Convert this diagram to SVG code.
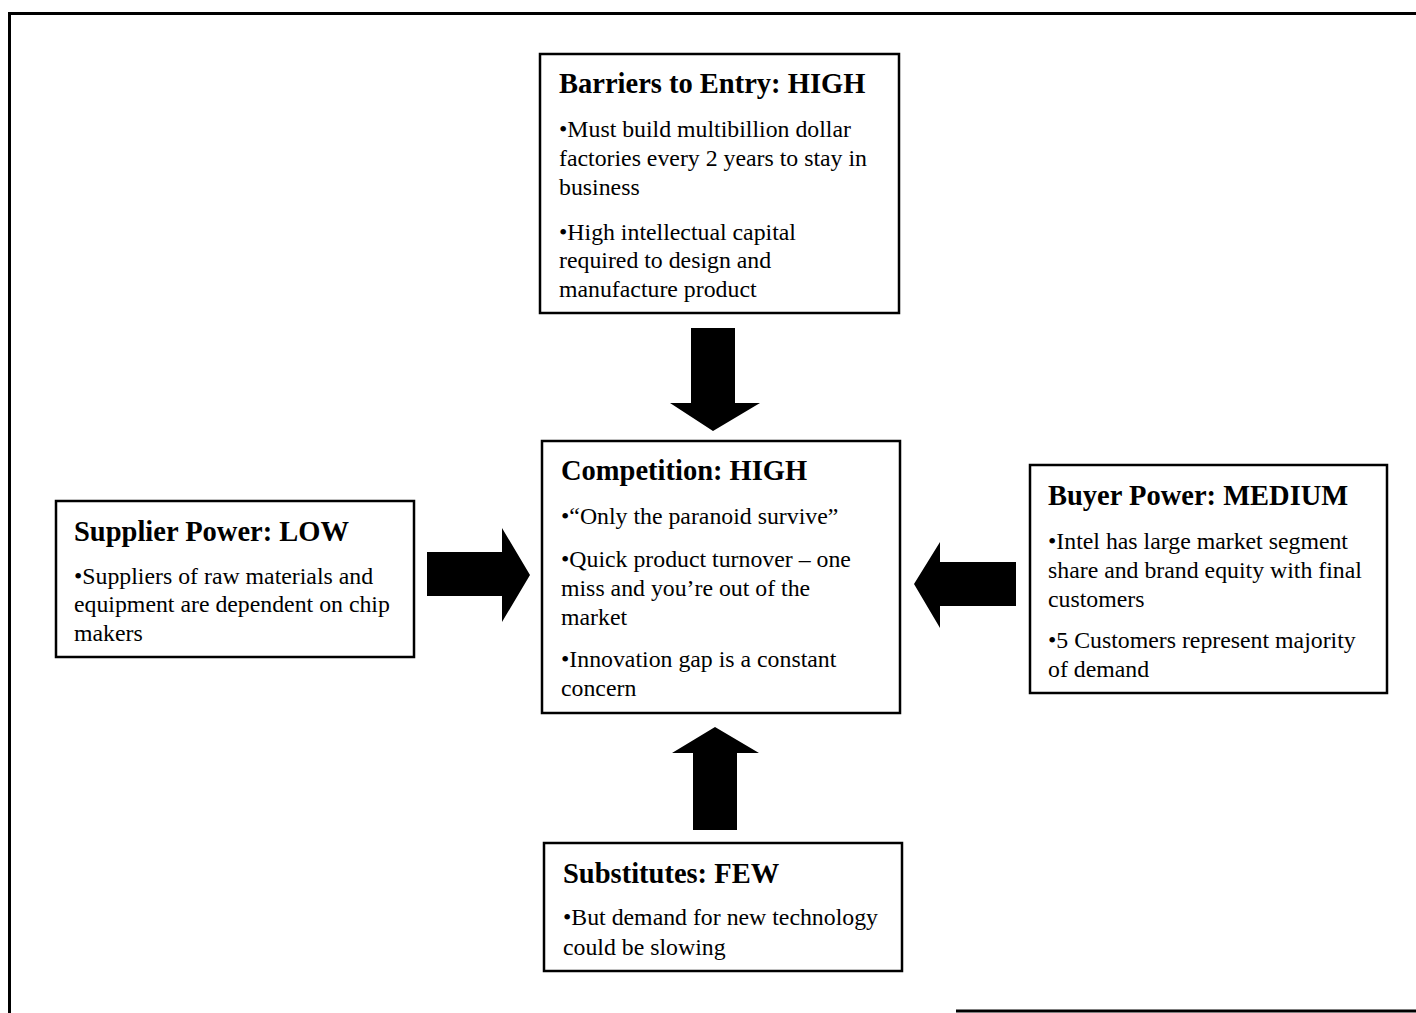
<svg xmlns="http://www.w3.org/2000/svg" width="1416" height="1013" viewBox="0 0 1416 1013">
<style>
.box{fill:#fff;stroke:#000;stroke-width:2.5}
.t{font-family:"Liberation Serif","Times New Roman",serif;font-weight:bold;font-size:28.5px;fill:#000}
.b{font-family:"Liberation Serif","Times New Roman",serif;font-size:23.8px;fill:#000}
.frame{fill:none;stroke:#000;stroke-width:3}
.arrow{fill:#000}
</style>
<rect width="1416" height="1013" fill="#fff"/>
<g id="frame">
<polyline class="frame" points="9.5,1013 9.5,13.5 1416,13.5"/>
<line class="frame" x1="956" y1="1011" x2="1416" y2="1011"/>
</g>
<g id="connectors">
<polygon class="arrow" points="691,328 735,328 735,403 760,403 713,431 670,403 691,403"/>
<polygon class="arrow" points="715,727 759,753 737,753 737,830 693,830 693,753 672,753"/>
<polygon class="arrow" points="427,552 502,552 502,528 530,575 502,622 502,596 427,596"/>
<polygon class="arrow" points="914,584 940,542 940,562 1016,562 1016,606 940,606 940,628"/>
</g>
<g id="barriers">
<rect class="box" x="540" y="54" width="359" height="259"/>
<text class="t" x="559" y="93">Barriers to Entry: HIGH</text>
<text class="b" x="559" y="137">•Must build multibillion dollar</text>
<text class="b" x="559" y="166">factories every 2 years to stay in</text>
<text class="b" x="559" y="195">business</text>
<text class="b" x="559" y="240">•High intellectual capital</text>
<text class="b" x="559" y="268">required to design and</text>
<text class="b" x="559" y="297">manufacture product</text>
</g>
<g id="competition">
<rect class="box" x="542" y="441" width="358" height="272"/>
<text class="t" x="561" y="480">Competition: HIGH</text>
<text class="b" x="561" y="524">•“Only the paranoid survive”</text>
<text class="b" x="561" y="567">•Quick product turnover – one</text>
<text class="b" x="561" y="596">miss and you’re out of the</text>
<text class="b" x="561" y="625">market</text>
<text class="b" x="561" y="667">•Innovation gap is a constant</text>
<text class="b" x="561" y="696">concern</text>
</g>
<g id="supplier">
<rect class="box" x="56" y="501" width="358" height="156"/>
<text class="t" x="74" y="541">Supplier Power: LOW</text>
<text class="b" x="74" y="584">•Suppliers of raw materials and</text>
<text class="b" x="74" y="612">equipment are dependent on chip</text>
<text class="b" x="74" y="641">makers</text>
</g>
<g id="buyer">
<rect class="box" x="1030" y="465" width="357" height="228"/>
<text class="t" x="1048" y="505">Buyer Power: MEDIUM</text>
<text class="b" x="1048" y="549">•Intel has large market segment</text>
<text class="b" x="1048" y="578">share and brand equity with final</text>
<text class="b" x="1048" y="607">customers</text>
<text class="b" x="1048" y="648">•5 Customers represent majority</text>
<text class="b" x="1048" y="677">of demand</text>
</g>
<g id="substitutes">
<rect class="box" x="544" y="843" width="358" height="128"/>
<text class="t" x="563" y="883">Substitutes: FEW</text>
<text class="b" x="563" y="925">•But demand for new technology</text>
<text class="b" x="563" y="955">could be slowing</text>
</g>
</svg>
